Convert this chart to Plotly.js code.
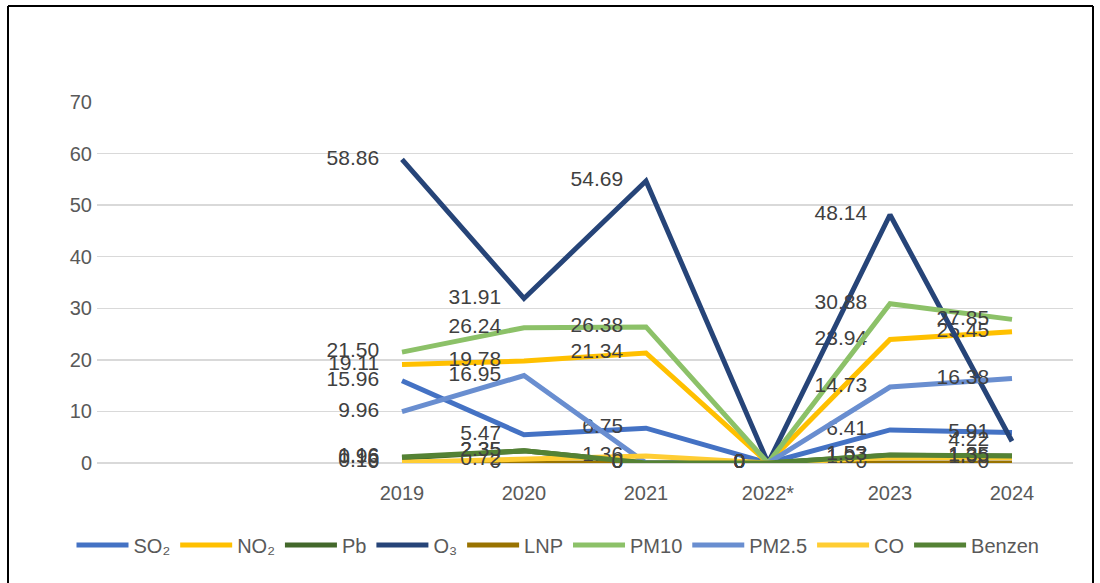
<!DOCTYPE html>
<html>
<head>
<meta charset="utf-8">
<script src="https://cdn.plot.ly/plotly-3.0.1.min.js"></script>
<style>html,body{margin:0;padding:0;background:#fff;}#chart{width:1100px;height:583px;}</style>
</head>
<body>
<div id="chart"></div>
<script>
const years = ['2019', '2020', '2021', '2022*', '2023', '2024'];
const SO2    = [15.96, 5.47, 6.75, 0, 6.41, 5.91];
const NO2    = [19.11, 19.78, 21.34, 0, 23.94, 25.45];
const Pb     = [0.96, 2.35, 0, 0, 1.52, 1.35];
const O3     = [58.86, 31.91, 54.69, 0, 48.14, 4.22];
const LNP    = [0, 0, 0, 0, 0, 0];
const PM10   = [21.50, 26.24, 26.38, 0, 30.88, 27.85];
const PM25   = [9.96, 16.95, 0, 0, 14.73, 16.38];
const CO     = [0.16, 0.72, 1.36, 0, 1.07, 1.06];
const Benzen = [1.16, 2.35, 0, 0, 1.53, 1.35];

const seriesNames = ['SO₂', 'NO₂', 'Pb', 'O₃', 'LNP', 'PM10', 'PM2.5', 'CO', 'Benzen'];
const seriesData = [SO2, NO2, Pb, O3, LNP, PM10, PM25, CO, Benzen];
const seriesColors = ['#4472C4', '#FFC000', '#43682B', '#264478', '#997300', '#8CC168', '#698ED0', '#FFCD33', '#548235'];

const fmt = v => (v === 0 ? '0' : v.toFixed(2));

const traces = seriesData.map((vals, i) => ({
  type: 'scatter',
  mode: 'lines+markers+text',
  name: seriesNames[i],
  x: years,
  y: vals,
  text: vals.map(fmt),
  textposition: 'middle left',
  textfont: {family: 'Liberation Sans, Arial, sans-serif', size: 21, color: '#404040'},
  line: {color: seriesColors[i], width: 5},
  marker: {size: 35, color: 'rgba(0,0,0,0)'},
  cliponaxis: false,
  hoverinfo: 'x+y+name'
}));

const L = 97, R = 1073, T = 102, B = 463;
const px = x => (x - L) / (R - L);
const py = y => (B - y) / (B - T);

const layout = {
  width: 1100, height: 583,
  margin: {l: L, r: 1100 - R, t: T, b: 583 - B},
  paper_bgcolor: '#ffffff', plot_bgcolor: '#ffffff',
  font: {family: 'Liberation Sans, Arial, sans-serif', color: '#595959', size: 20},
  showlegend: true,
  xaxis: {
    type: 'category',
    range: [-2.5, 5.5],
    showgrid: false, zeroline: false, showline: false,
    ticks: '', ticklabelstandoff: 16,
    tickfont: {size: 20, color: '#595959'},
    fixedrange: true
  },
  yaxis: {
    range: [0, 70], dtick: 10, tick0: 0,
    showgrid: true, gridcolor: '#D9D9D9', gridwidth: 1.5,
    zeroline: true, zerolinecolor: '#D9D9D9', zerolinewidth: 1.5,
    showline: false, ticks: '',
    tickfont: {size: 20, color: '#595959'},
    ticklabelstandoff: 4,
    fixedrange: true
  },
  legend: {
    orientation: 'h', x: px(558), xanchor: 'center', y: py(545), yanchor: 'middle',
    font: {size: 20, color: '#595959'}, itemwidth: 52, tracegroupgap: 0,
    bgcolor: 'rgba(0,0,0,0)'
  },
  shapes: [
    {type: 'line', xref: 'paper', yref: 'paper', x0: px(8), x1: px(8), y0: py(6), y1: py(600), line: {color: '#000', width: 2}},
    {type: 'line', xref: 'paper', yref: 'paper', x0: px(1093), x1: px(1093), y0: py(6), y1: py(600), line: {color: '#000', width: 2}},
    {type: 'line', xref: 'paper', yref: 'paper', x0: px(8), x1: px(1093), y0: py(6), y1: py(6), line: {color: '#000', width: 2}}
  ]
};

Plotly.newPlot('chart', traces, layout, {displayModeBar: false, staticPlot: true});
</script>
</body>
</html>
